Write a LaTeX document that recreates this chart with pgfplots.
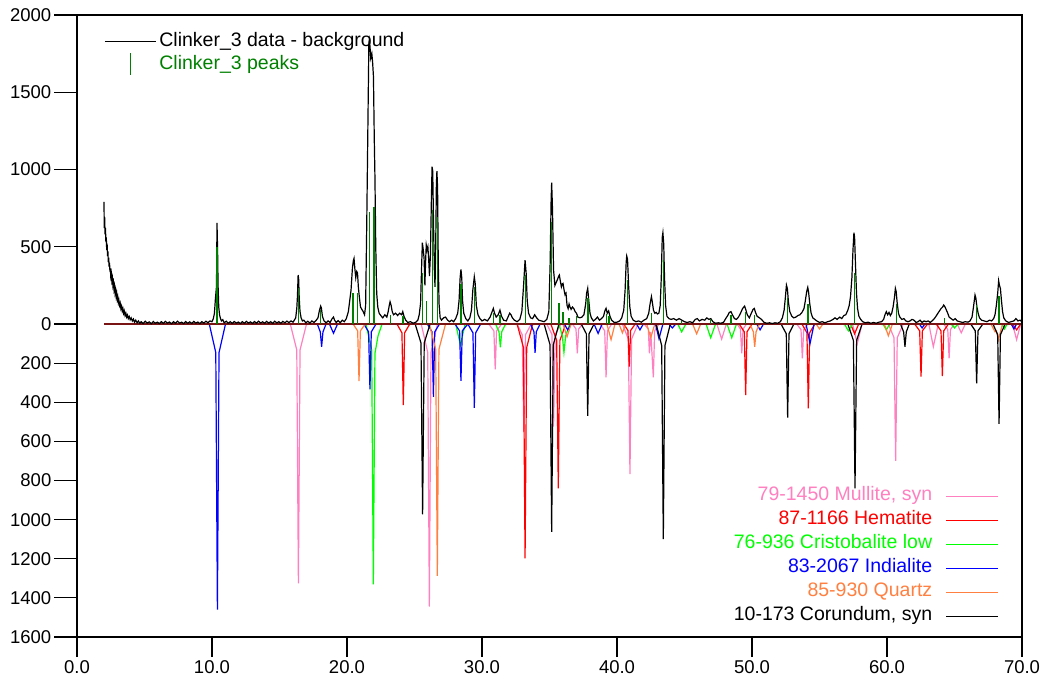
\documentclass[border=0pt]{standalone}
\usepackage{fontspec}
\setmainfont{Liberation Sans}
\usepackage{pgfplots}
\pgfplotsset{compat=1.18}

\definecolor{mullite}{RGB}{255,128,192}
\definecolor{hematite}{RGB}{255,0,0}
\definecolor{cristo}{RGB}{0,255,0}
\definecolor{indialite}{RGB}{0,0,255}
\definecolor{quartz}{RGB}{255,128,64}
\definecolor{peakgreen}{RGB}{0,128,0}
\definecolor{zeroline}{RGB}{120,20,20}

\newcommand{\chartfont}{\fontsize{19.5}{22}\selectfont}
\newcommand{\tickfont}{\fontsize{18.5}{21}\selectfont}

\pgfplotsset{
  xrdframe/.style={
    width=945pt, height=622pt, scale only axis,
    xmin=0, xmax=70, ymin=-2025.6, ymax=2000,
  },
}

\begin{document}
\begin{tikzpicture}[font=\chartfont]
% reference patterns, plotted downward (lower half has its own scale)
\begin{axis}[xrdframe, hide axis,
  y filter/.expression={1.266*y},
  legend style={at={(1,0)}, anchor=south east, xshift=-23pt, yshift=11pt,
    draw=none, fill=none, inner sep=0pt, column sep=13pt, row sep=5pt,
    font=\chartfont,
    nodes={inner sep=0pt, text height=14pt, text depth=5pt}},
  legend cell align=right, legend plot pos=right,
  legend image code/.code={\draw[#1, line width=1.6pt] (0pt,0pt) -- (52pt,0pt);},
  every axis plot/.append style={line width=1.2pt},
]
\addplot[mullite] coordinates {
(2,0)(15.8,0)(16.28,-133)(16.4,-1326)(16.52,-133)(17.0,0)
(25.5,0)(25.98,-145)(26.1,-1445)(26.22,-145)(26.7,0)
(30.5,0)(30.88,-35)(30.98,-232)(31.08,-35)(31.45,0)
(32.6,0)(32.98,-55)(33.1,-550)(33.22,-55)(33.65,0)
(34.8,0)(35.18,-53)(35.3,-525)(35.42,-53)(35.85,0)
(36.7,0)(36.96,-25)(37.06,-150)(37.16,-25)(37.45,0)
(38.75,0)(39.09,-35)(39.19,-273)(39.29,-35)(39.6,0)
(40.4,0)(40.84,-77)(40.96,-767)(41.08,-77)(41.55,0)
(42.0,0)(42.32,-25)(42.4,-150)(42.5,-40)(42.69,-273)(42.79,-35)(43.1,0)
(47.4,0)(47.75,-77)(48.1,0)
(48.9,0)(49.14,-25)(49.24,-150)(49.34,-25)(49.6,0)
(53.3,0)(53.63,-28)(53.73,-176)(53.83,-28)(54.15,0)
(57.45,0)(57.8,-100)(58.15,0)
(60.1,0)(60.52,-70)(60.64,-699)(60.76,-70)(61.2,0)
(63.1,0)(63.43,-116)(63.8,0)
(64.2,0)(64.5,-28)(64.6,-176)(64.7,-28)(65.0,0)
(65.2,0)(65.5,-45)(65.8,0)
(69.3,0)(69.6,-80)(69.9,0)(70,0)};
\addlegendentry[text=mullite]{79-1450 Mullite, syn}
\addplot[hematite] coordinates {
(2,0)(23.7,0)(24.07,-45)(24.17,-414)(24.27,-45)(24.65,0)
(32.6,0)(33.07,-120)(33.19,-1198)(33.31,-120)(33.75,0)
(35.1,0)(35.53,-84)(35.65,-840)(35.77,-84)(36.2,0)
(40.5,0)(40.81,-33)(40.91,-218)(41.01,-33)(41.35,0)
(49.05,0)(49.43,-40)(49.53,-363)(49.63,-40)(50.0,0)
(53.7,0)(54.07,-45)(54.17,-431)(54.27,-45)(54.65,0)
(57.3,0)(57.6,-50)(57.9,0)
(62.05,0)(62.42,-35)(62.52,-269)(62.62,-35)(63.0,0)
(63.65,0)(64.0,-35)(64.1,-266)(64.2,-35)(64.55,0)
(69.3,0)(69.6,-30)(69.9,0)(70,0)};
\addlegendentry[text=hematite]{87-1166 Hematite}
\addplot[cristo] coordinates {
(2,0)(21.4,0)(21.83,-133)(21.95,-1331)(22.07,-150)(22.3,-60)(22.6,0)
(28.05,0)(28.4,-107)(28.75,0)
(31.0,0)(31.26,-40)(31.36,-119)(31.46,-40)(31.75,0)
(35.7,0)(35.95,-60)(36.07,-145)(36.2,-60)(36.5,0)
(44.5,0)(44.79,-40)(45.1,0)
(46.6,0)(46.94,-70)(47.3,0)
(48.15,0)(48.5,-70)(48.85,0)
(56.85,0)(57.14,-35)(57.45,0)
(59.7,0)(59.95,-30)(60.2,0)
(64.75,0)(65.0,-20)(65.25,0)
(68.5,0)(68.7,-25)(68.9,0)(70,0)};
\addlegendentry[text=cristo]{76-936 Cristobalite low}
\addplot[indialite] coordinates {
(2,0)(9.8,0)(10.28,-146)(10.4,-1460)(10.52,-146)(11.0,0)
(17.8,0)(18.02,-40)(18.12,-116)(18.22,-40)(18.45,0)
(18.7,0)(19.0,-47)(19.3,0)
(21.25,0)(21.6,-40)(21.7,-334)(21.8,-40)(22.15,0)
(25.95,0)(26.3,-40)(26.4,-372)(26.5,-40)(26.85,0)
(28.0,0)(28.34,-35)(28.44,-290)(28.54,-35)(28.95,0)(29.33,-45)(29.43,-428)(29.53,-45)(29.9,0)
(33.6,0)(33.85,-40)(33.93,-147)(34.02,-40)(34.3,0)
(36.1,0)(36.35,-30)(36.6,0)
(38.3,0)(38.6,-48)(38.9,0)
(41.45,0)(41.7,-30)(41.95,0)
(42.85,0)(43.11,-75)(43.4,0)
(43.85,0)(44.1,-20)(44.35,0)
(50.35,0)(50.6,-30)(50.85,0)
(54.0,0)(54.3,-99)(54.6,0)
(62.4,0)(62.6,-20)(62.8,0)
(69.2,0)(69.4,-25)(69.6,0)(70,0)};
\addlegendentry[text=indialite]{83-2067 Indialite}
\addplot[quartz] coordinates {
(2,0)(20.45,0)(20.79,-35)(20.89,-292)(20.99,-35)(21.35,0)
(26.1,0)(26.57,-129)(26.69,-1287)(26.81,-129)(27.3,0)
(36.0,0)(36.3,-65)(36.6,0)
(39.25,0)(39.56,-80)(39.85,0)
(40.15,0)(40.4,-45)(40.65,0)
(42.2,0)(42.5,-70)(42.8,0)
(45.6,0)(45.9,-50)(46.2,0)
(49.85,0)(50.1,-40)(50.2,-116)(50.3,-40)(50.55,0)
(54.75,0)(55.0,-25)(55.25,0)
(59.8,0)(60.1,-60)(60.4,0)
(67.7,0)(68.0,-40)(68.1,-35)(68.25,-82)(68.55,0)(70,0)};
\addlegendentry[text=quartz]{85-930 Quartz}
\addplot[black] coordinates {
(2,0)(25.05,0)(25.48,-97)(25.6,-973)(25.72,-97)(26.15,0)
(34.6,0)(35.04,-106)(35.16,-1062)(35.28,-106)(35.7,0)
(37.35,0)(37.73,-50)(37.83,-469)(37.93,-50)(38.3,0)
(42.9,0)(43.31,-110)(43.43,-1099)(43.55,-110)(43.95,0)
(52.15,0)(52.54,-50)(52.64,-479)(52.74,-50)(53.1,0)
(57.1,0)(57.51,-84)(57.63,-840)(57.75,-84)(58.15,0)
(61.0,0)(61.23,-40)(61.33,-116)(61.43,-40)(61.65,0)
(66.2,0)(66.54,-35)(66.64,-303)(66.74,-35)(67.1,0)
(67.85,0)(68.2,-55)(68.3,-511)(68.4,-55)(68.75,0)(70,0)};
\addlegendentry[text=black]{10-173 Corundum, syn}
\addplot[zeroline, forget plot] coordinates {(2,0) (70,0)};
\end{axis}

% measured pattern and fitted peaks, with the visible frame
\begin{axis}[xrdframe,
  axis line style={line width=1.2pt},
  tick style={line width=1.2pt, black},
  tick align=outside, tick pos=left,
  major tick length=20pt,
  xtick={0,10,...,70},
  xticklabels={0.0,10.0,20.0,30.0,40.0,50.0,60.0,70.0},
  ytick={-2025.6,-1772.4,-1519.2,-1266,-1012.8,-759.6,-506.4,-253.2,0,500,1000,1500,2000},
  yticklabels={1600,1400,1200,1000,800,600,400,200,0,500,1000,1500,2000},
  ytick style={/pgfplots/major tick length=22.5pt},
  ticklabel style={font=\tickfont, inner sep=3pt},
  yticklabel style={xshift=-2.5pt},
  legend style={at={(0,1)}, anchor=north west, xshift=27pt, yshift=-17pt,
    draw=none, fill=none, inner sep=0pt, column sep=3pt, row sep=4pt,
    font=\chartfont,
    nodes={inner sep=0pt, text height=14pt, text depth=5pt}},
  legend cell align=left,
  legend image code/.code={\draw[#1] (0pt,0pt) -- (51pt,0pt);},
]
\addplot[black, line width=1.2pt] coordinates {
(2.00,790)(2.02,620)(2.05,690)(2.08,580)(2.11,620)(2.14,530)(2.17,560)(2.20,480)
(2.23,520)(2.26,440)(2.29,470)(2.32,400)(2.35,430)(2.38,370)(2.41,395)(2.44,340)
(2.47,360)(2.50,310)(2.54,330)(2.58,280)(2.62,300)(2.66,250)(2.70,270)(2.74,225)
(2.78,245)(2.82,200)(2.86,220)(2.90,180)(2.94,200)(2.98,160)(3.02,175)(3.06,140)
(3.10,155)(3.15,120)(3.20,135)(3.25,100)(3.30,115)(3.35,85)(3.40,100)(3.45,70)
(3.50,85)(3.56,55)(3.62,70)(3.68,45)(3.74,58)(3.80,35)(3.87,48)(3.94,28)(4.01,40)
(4.10,20)(4.18,32)(4.26,12)(4.35,25)(4.45,8)(4.55,20)(4.65,5)(4.75,15)
(4.9,3)(5.05,18)(5.2,6)(5.35,14)(5.5,2)(5.65,16)(5.8,5)(5.95,12)(6.1,3)(6.25,15)
(6.4,4)(6.55,17)(6.7,6)(6.85,13)(7.0,2)(7.15,15)(7.3,5)(7.45,18)(7.6,6)(7.75,12)
(7.9,3)(8.05,16)(8.2,5)(8.35,14)(8.5,4)(8.65,17)(8.8,6)(8.95,13)(9.1,3)(9.25,15)
(9.4,6)(9.55,18)(9.7,8)(9.85,20)
(10.0,15)(10.1,35)(10.18,70)(10.25,160)(10.3,210)(10.33,200)(10.37,654)(10.41,500)
(10.45,250)(10.5,110)(10.56,60)(10.63,35)(10.7,20)(10.8,28)(10.9,8)
(11.05,18)(11.2,5)(11.35,15)(11.5,4)(11.65,16)(11.8,6)(11.95,13)(12.1,3)(12.25,15)
(12.4,5)(12.55,17)(12.7,6)(12.85,14)(13.0,4)(13.15,16)(13.3,5)(13.45,18)(13.6,7)
(13.75,14)(13.9,5)(14.05,17)(14.2,6)(14.35,15)(14.5,4)(14.65,18)(14.8,7)(14.95,15)
(15.1,5)(15.25,17)(15.4,8)(15.55,19)(15.7,9)(15.85,20)(16.0,12)
(16.1,25)(16.2,40)(16.28,100)(16.33,180)(16.38,317)(16.42,290)(16.46,170)(16.52,80)
(16.6,40)(16.7,20)(16.8,25)(16.95,8)(17.1,18)(17.25,6)(17.4,20)(17.55,10)(17.7,22)
(17.85,40)(17.95,85)(18.05,116)(18.1,105)(18.18,50)(18.3,20)(18.45,8)(18.6,20)
(18.75,10)(18.9,35)(19.0,45)(19.08,25)(19.2,10)(19.35,22)(19.5,8)(19.65,25)(19.8,15)
(19.95,35)(20.1,80)(20.2,150)(20.3,220)(20.4,360)(20.47,410)(20.52,425)(20.58,360)
(20.65,300)(20.72,340)(20.78,330)(20.84,240)(20.92,170)(21.0,110)(21.1,95)(21.2,80)
(21.3,60)(21.38,120)(21.46,630)(21.55,1300)(21.62,1820)(21.66,1840)(21.7,1800)
(21.76,1720)(21.84,1750)(21.9,1690)(21.96,1600)(22.02,1200)(22.07,950)(22.13,500)
(22.2,200)(22.28,110)(22.38,70)(22.5,55)(22.65,40)(22.8,60)(22.95,45)(23.05,80)
(23.13,120)(23.19,144)(23.27,120)(23.35,80)(23.45,60)(23.6,70)(23.75,55)(23.9,70)
(24.05,60)(24.13,80)(24.22,50)(24.35,25)(24.5,10)(24.7,15)(24.9,5)(25.1,12)(25.25,25)
(25.35,60)(25.45,134)(25.52,350)(25.58,526)(25.65,480)(25.71,425)(25.77,250)
(25.82,400)(25.87,511)(25.93,480)(25.99,500)(26.05,420)(26.11,310)(26.18,450)
(26.25,800)(26.3,1018)(26.35,990)(26.41,650)(26.47,350)(26.52,240)(26.57,500)
(26.62,900)(26.66,990)(26.71,880)(26.76,400)(26.82,130)(26.9,40)(27.0,25)(27.15,40)
(27.3,45)(27.45,25)(27.6,15)(27.75,25)(27.9,15)(28.05,35)(28.2,70)(28.3,150)
(28.38,300)(28.44,354)(28.5,300)(28.56,150)(28.65,70)(28.8,35)(28.95,20)(29.1,40)
(29.22,90)(29.32,220)(29.43,306)(29.5,260)(29.58,120)(29.7,60)(29.85,35)(30.0,20)
(30.2,30)(30.4,20)(30.6,45)(30.75,80)(30.84,101)(30.93,70)(31.05,45)(31.2,60)
(31.33,90)(31.45,50)(31.6,25)(31.8,20)(31.95,50)(32.05,70)(32.15,60)(32.25,40)
(32.4,25)(32.6,15)(32.8,30)(32.95,80)(33.08,250)(33.19,414)(33.27,330)(33.35,150)
(33.45,70)(33.6,40)(33.75,35)(33.9,60)(34.05,40)(34.2,25)(34.4,20)(34.6,15)(34.8,30)
(34.95,80)(35.05,400)(35.12,800)(35.16,915)(35.22,750)(35.3,350)(35.4,250)(35.5,270)
(35.6,290)(35.68,310)(35.73,317)(35.8,280)(35.88,240)(35.95,260)(36.0,263)(36.08,220)
(36.15,190)(36.22,200)(36.3,120)(36.38,100)(36.45,130)(36.52,110)(36.6,95)(36.7,110)
(36.8,100)(36.9,80)(37.0,70)(37.1,45)(37.25,40)(37.4,45)(37.55,60)(37.68,130)
(37.75,200)(37.83,231)(37.9,160)(38.0,70)(38.1,40)(38.25,20)(38.4,30)(38.55,45)
(38.7,25)(38.85,35)(39.0,50)(39.1,85)(39.19,101)(39.28,70)(39.38,85)(39.48,50)
(39.6,25)(39.8,10)(40.0,12)(40.2,20)(40.35,40)(40.5,90)(40.6,220)(40.68,400)
(40.72,440)(40.78,420)(40.86,250)(40.95,110)(41.05,50)(41.2,25)(41.4,15)(41.6,20)
(41.8,12)(42.0,25)(42.2,35)(42.35,70)(42.45,130)(42.55,177)(42.62,140)(42.7,90)
(42.8,70)(42.9,75)(43.0,65)(43.1,70)(43.2,120)(43.28,300)(43.35,560)(43.4,591)
(43.46,520)(43.52,300)(43.6,120)(43.7,50)(43.85,35)(44.0,30)(44.2,35)(44.4,25)
(44.6,35)(44.8,25)(45.0,15)(45.2,10)(45.4,15)(45.6,8)(45.8,30)(45.95,35)(46.1,20)
(46.3,30)(46.5,25)(46.65,40)(46.8,30)(46.95,35)(47.1,15)(47.3,5)(47.5,8)(47.7,5)
(47.9,12)(48.05,35)(48.2,55)(48.32,75)(48.44,80)(48.55,60)(48.7,35)(48.85,30)
(49.0,45)(49.15,70)(49.3,100)(49.45,116)(49.55,90)(49.65,60)(49.8,40)(49.95,70)
(50.08,95)(50.17,101)(50.26,75)(50.38,50)(50.55,40)(50.7,30)(50.9,10)(51.1,5)
(51.3,8)(51.5,3)(51.7,8)(51.9,5)(52.1,15)(52.25,40)(52.38,90)(52.47,170)(52.55,252)
(52.62,230)(52.7,140)(52.8,80)(52.95,50)(53.1,40)(53.25,45)(53.4,55)(53.55,60)
(53.7,75)(53.85,100)(53.95,150)(54.05,210)(54.13,237)(54.2,200)(54.28,130)(54.38,70)
(54.5,40)(54.65,30)(54.8,20)(55.0,10)(55.2,15)(55.4,8)(55.6,15)(55.8,20)(56.0,30)
(56.15,40)(56.3,30)(56.5,45)(56.65,35)(56.8,55)(56.95,60)(57.1,90)(57.2,120)
(57.3,180)(57.4,300)(57.48,480)(57.55,591)(57.6,560)(57.66,400)(57.74,200)(57.82,100)
(57.92,50)(58.05,30)(58.2,15)(58.4,8)(58.6,12)(58.8,5)(59.0,10)(59.2,5)(59.4,12)
(59.6,15)(59.75,30)(59.85,60)(59.95,80)(60.05,60)(60.15,75)(60.25,55)(60.35,70)
(60.45,110)(60.55,170)(60.62,231)(60.68,210)(60.75,140)(60.85,70)(60.95,45)(61.1,30)
(61.25,35)(61.4,20)(61.55,15)(61.7,20)(61.85,30)(62.0,25)(62.15,10)(62.3,15)
(62.45,25)(62.6,10)(62.75,20)(62.9,15)(63.05,20)(63.2,10)(63.4,25)(63.55,40)
(63.7,60)(63.85,80)(64.0,100)(64.12,110)(64.2,123)(64.3,110)(64.4,90)(64.5,70)
(64.6,45)(64.75,35)(64.9,25)(65.05,35)(65.2,20)(65.4,15)(65.6,10)(65.8,15)(66.0,12)
(66.15,20)(66.3,45)(66.42,120)(66.52,188)(66.58,170)(66.66,110)(66.75,70)(66.85,40)
(67.0,25)(67.2,20)(67.4,15)(67.6,25)(67.75,20)(67.9,35)(68.0,60)(68.1,120)(68.2,200)
(68.27,280)(68.33,250)(68.4,230)(68.48,150)(68.56,80)(68.65,40)(68.8,20)(69.0,10)
(69.2,15)(69.4,20)(69.55,35)(69.7,20)(69.85,25)(70.0,15)};
\addlegendentry{Clinker\_3 data - background}
\addplot[ycomb, peakgreen, line width=1.2pt,
  legend image code/.code={\draw[peakgreen, line width=1.2pt, overlay] (25.5pt,-10pt) -- (25.5pt,12pt);}]
coordinates {
(10.37,500)(16.4,233)(18.05,90)(20.45,200)(20.75,200)(21.65,723)(22.0,759)(23.2,60)
(24.15,50)(25.6,330)(25.9,150)(26.35,738)(26.7,695)(28.44,260)(29.45,240)(30.85,70)
(31.33,60)(33.2,320)(35.15,662)(35.7,134)(36.0,80)(36.45,40)(37.0,50)(37.85,170)
(39.2,65)(39.4,50)(40.75,283)(42.55,70)(43.45,414)(44.8,20)(46.9,30)(48.45,60)
(49.5,80)(50.2,60)(52.6,170)(54.15,130)(57.6,328)(60.7,130)(64.25,40)(66.6,120)
(68.3,180)};
\addlegendentry[text=peakgreen]{Clinker\_3 peaks}
\end{axis}
\pgfresetboundingbox
\path[use as bounding box] (-77pt,-44pt) rectangle (971pt,637pt);
\end{tikzpicture}
\end{document}
